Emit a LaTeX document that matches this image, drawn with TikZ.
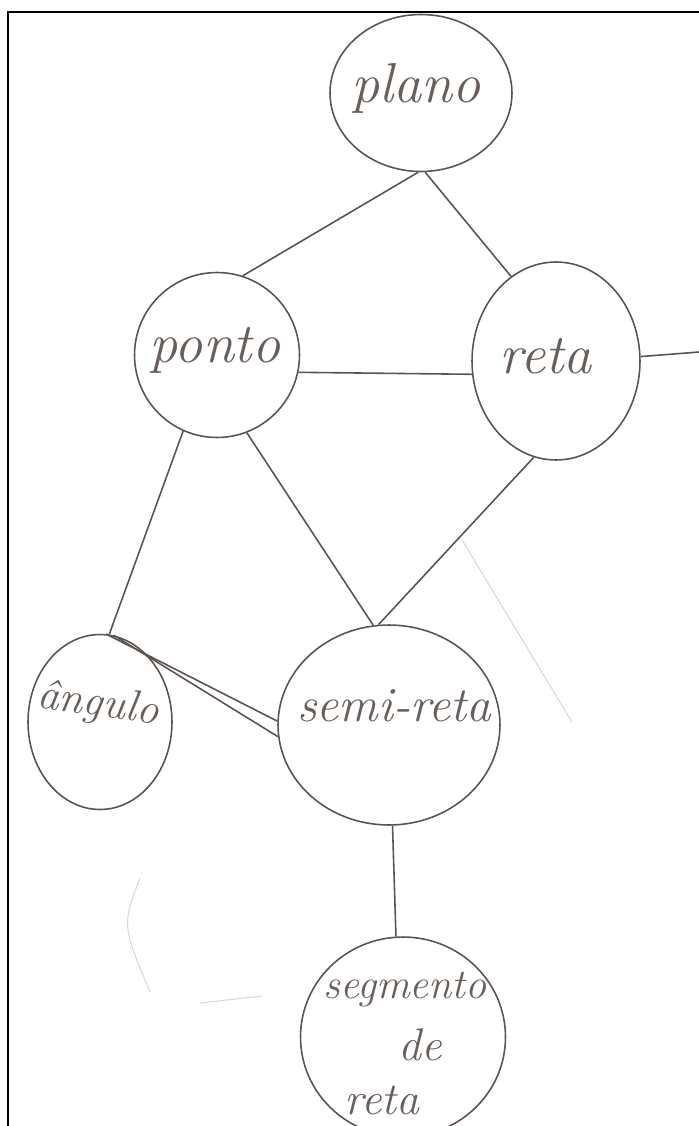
\documentclass[tikz,border=0pt]{standalone}
\usepackage{tikz}
\usetikzlibrary{shapes.geometric}
\definecolor{pencil}{RGB}{92,82,78}
\definecolor{pencilt}{RGB}{105,95,90}
\definecolor{ghost}{RGB}{218,216,214}

\begin{document}
\begin{tikzpicture}[
    x=0.02cm, y=-0.02cm,
    bub/.style={ellipse, draw=pencil, line width=0.9pt, inner sep=0pt},
    hand/.style={text=pencilt, font=\fontsize{32}{38}\selectfont\itshape,
        inner sep=0pt},
    te/.style={draw=pencil, line width=0.9pt},
]
\useasboundingbox (0,0) rectangle (699,1126);

% ====== FRAME ======
\draw[line width=1.5pt] (699,12) -- (8,12) -- (8,1126);

% ====== BUBBLES ======
\node[bub, minimum width=3.64cm, minimum height=3.14cm] (plano) at (421,93)  {};
\node[bub, minimum width=3.30cm, minimum height=3.30cm] (ponto) at (217,355) {};
\node[bub, minimum width=3.36cm, minimum height=3.96cm] (reta)  at (556,361) {};
\node[bub, minimum width=2.88cm, minimum height=3.50cm] (angulo) at (100,722) {};
\node[bub, minimum width=4.44cm, minimum height=4.00cm] (semi)  at (389,725) {};
\node[bub, minimum width=4.10cm, minimum height=4.00cm] (segm)  at (403,1037) {};

% ====== LABELS ======
\node[hand] (plano-l) at (416,88)  {plano};
\node[hand] (ponto-l) at (215,350) {ponto};
\node[hand] (reta-l)  at (546,356) {reta};
\node[hand, font=\fontsize{25}{30}\selectfont\itshape, rotate=-8]
    (angulo-l) at (98,705) {ângulo};
\node[hand, font=\fontsize{28}{32}\selectfont\itshape] (semi-l) at (394,706) {semi-reta};
\node[hand, font=\fontsize{24}{30}\selectfont\itshape] (segm-l1) at (405,990)  {segmento};
\node[hand, font=\fontsize{26}{30}\selectfont\itshape] (segm-l2) at (420,1045) {de};
\node[hand, font=\fontsize{26}{30}\selectfont\itshape] (segm-l3) at (382,1100) {reta};

% ====== CONNECTORS ======
\coordinate (reta-out) at (699,352);
\foreach \a/\b in {plano.268/ponto.72, plano.273/reta.118,
    ponto.-12/reta.189, reta.3/reta-out,
    ponto.246/angulo.84, ponto.291/semi.99, reta.257/semi.96,
    angulo.86/semi.178, angulo.81/semi.186, semi.272/segm.94}
    \draw[te] (\a) -- (\b);

% faint marks from the back of the sheet
\draw[ghost, line width=0.6pt] (462,540) -- (572,722);
\draw[ghost, line width=0.6pt] (140,878) .. controls (122,925) .. (150,992);
\draw[ghost, line width=0.6pt] (200,1003) -- (262,996);

\end{tikzpicture}
\end{document}
